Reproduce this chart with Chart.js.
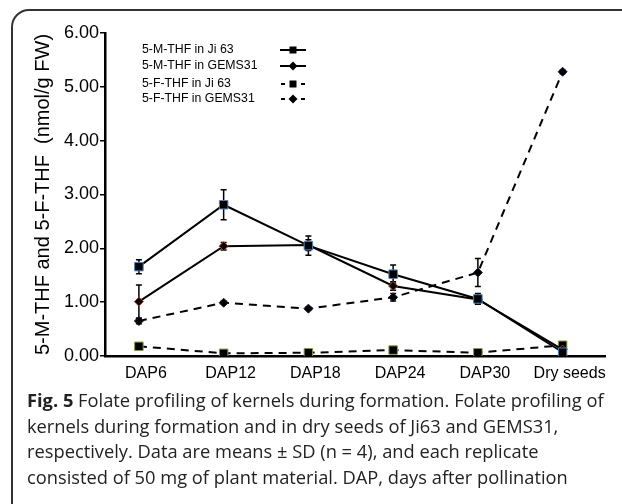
<!DOCTYPE html>
<html>
<head>
<meta charset="utf-8">
<script src="https://cdn.jsdelivr.net/npm/chart.js@4"></script>
<style>
  html, body { margin: 0; padding: 0; background: #fff; overflow: hidden; }
  body { width: 622px; height: 504px; position: relative; }
  #frame {
    position: absolute; left: 11px; top: 9px; width: 660px; height: 520px;
    border: 2px solid #333; border-radius: 18px; box-sizing: border-box;
  }
  #wrap { position: absolute; left: 0; top: 0; width: 622px; height: 390px; }
  #caption {
    position: absolute; left: 27px; top: 387px; white-space: nowrap;
    font-family: "Open Sans", sans-serif; font-size: 18.3px; line-height: 25.7px; color: #222;
  }
</style>
</head>
<body>
<div id="frame"></div>
<div id="wrap"><canvas id="chart" width="622" height="390"></canvas></div>
<div id="caption">
  <b>Fig. 5</b> Folate profiling of kernels during formation. Folate profiling of<br>
  kernels during formation and in dry seeds of Ji63 and GEMS31,<br>
  respectively. Data are means ± SD (n = 4), and each replicate<br>
  consisted of 50 mg of plant material. DAP, days after pollination
</div>
<script>
const categories = ["DAP6", "DAP12", "DAP18", "DAP24", "DAP30", "Dry seeds"];

// means (nmol/g FW)
const mthfJi63 = [1.66, 2.81, 2.05, 1.52, 1.06, 0.07];
const mthfGems31 = [1.01, 2.04, 2.06, 1.30, 1.05, 0.12];
const fthfJi63 = [0.18, 0.05, 0.06, 0.11, 0.06, 0.20];
const fthfGems31 = [0.65, 0.99, 0.88, 1.09, 1.55, 5.28];

// SD
const mthfJi63Sd = [0.13, 0.28, 0.18, 0.17, 0.10, 0];
const mthfGems31Sd = [0.31, 0.07, 0.10, 0.08, 0.08, 0];
const fthfJi63Sd = [0, 0, 0, 0, 0, 0];
const fthfGems31Sd = [0.05, 0.03, 0.03, 0.07, 0.26, 0.03];

const yTicks = [0, 1, 2, 3, 4, 5, 6];

const toPoints = (arr) => arr.map((v, i) => ({ x: i, y: v }));

const makeSet = (label, data, sd, dashed, style, edge) => ({
  label,
  data: toPoints(data),
  sd,
  borderColor: "#000",
  borderWidth: 2,
  borderDash: dashed ? [8, 6] : [],
  pointStyle: style,
  pointRadius: style === "rect" ? 6 : 4.5,
  pointBackgroundColor: "#000",
  pointBorderColor: edge,
  pointBorderWidth: 1,
  tension: 0,
});

// error bars, drawn under the markers
const errorBars = {
  id: "errorBars",
  beforeDatasetsDraw(chart) {
    const { ctx, scales: { x, y } } = chart;
    ctx.save();
    ctx.strokeStyle = "#000";
    ctx.lineWidth = 1.5;
    chart.data.datasets.forEach((ds) => {
      ds.data.forEach((p, i) => {
        const e = ds.sd[i];
        if (!e) return;
        const px = x.getPixelForValue(p.x);
        const top = y.getPixelForValue(p.y + e);
        const bot = y.getPixelForValue(p.y - e);
        ctx.beginPath();
        ctx.moveTo(px, top); ctx.lineTo(px, bot);
        ctx.moveTo(px - 3, top); ctx.lineTo(px + 3, top);
        ctx.moveTo(px - 3, bot); ctx.lineTo(px + 3, bot);
        ctx.stroke();
      });
    });
    ctx.restore();
  },
};

// legend: text first, line sample after it
const sideLegend = {
  id: "sideLegend",
  afterDraw(chart) {
    const { ctx } = chart;
    const rows = [50, 66, 84, 99];
    ctx.save();
    ctx.font = "12.3px 'Liberation Sans', Arial, sans-serif";
    ctx.textBaseline = "middle";
    ctx.fillStyle = "#000";
    chart.data.datasets.forEach((ds, i) => {
      const yy = rows[i];
      ctx.fillText(ds.label, 142, yy);
      ctx.strokeStyle = "#000";
      ctx.lineWidth = 2;
      ctx.beginPath();
      if (ds.borderDash.length) {
        ctx.moveTo(281, yy); ctx.lineTo(285, yy);
        ctx.moveTo(301, yy); ctx.lineTo(305, yy);
      } else {
        ctx.moveTo(280, yy); ctx.lineTo(306, yy);
      }
      ctx.stroke();
      ctx.beginPath();
      if (ds.pointStyle === "rect") {
        ctx.rect(289.5, yy - 3.5, 7, 7);
      } else {
        ctx.moveTo(293, yy - 4.5); ctx.lineTo(297.5, yy);
        ctx.lineTo(293, yy + 4.5); ctx.lineTo(288.5, yy);
        ctx.closePath();
      }
      ctx.fill();
    });
    ctx.restore();
  },
};

new Chart(document.getElementById("chart"), {
  type: "line",
  data: {
    datasets: [
      makeSet("5-M-THF in Ji 63", mthfJi63, mthfJi63Sd, false, "rect", "#4f81bd"),
      makeSet("5-M-THF in GEMS31", mthfGems31, mthfGems31Sd, false, "rectRot", "#b03028"),
      makeSet("5-F-THF in Ji 63", fthfJi63, fthfJi63Sd, true, "rect", "#8a9a3a"),
      makeSet("5-F-THF in GEMS31", fthfGems31, fthfGems31Sd, true, "rectRot", "#1a1a3a"),
    ],
  },
  plugins: [errorBars, sideLegend],
  options: {
    responsive: false,
    animation: false,
    layout: { padding: { left: 27, right: 17, top: 33, bottom: 4 } },
    plugins: { legend: { display: false }, tooltip: { enabled: false } },
    scales: {
      x: {
        type: "linear",
        min: -0.4,
        max: 5.5,
        afterBuildTicks: (axis) => { axis.ticks = categories.map((c, i) => ({ value: i })); },
        afterFit: (axis) => { axis.height = 30; },
        grid: { display: false, drawTicks: false },
        border: { display: true, color: "#000", width: 2.5 },
        ticks: {
          autoSkip: false,
          maxRotation: 0,
          padding: 8,
          labelOffset: 7,
          color: "#000",
          font: { family: "'Liberation Sans', Arial, sans-serif", size: 16 },
          callback: (v) => categories[v],
        },
      },
      y: {
        min: 0,
        max: 6,
        afterBuildTicks: (axis) => { axis.ticks = yTicks.map((v) => ({ value: v })); },
        afterFit: (axis) => { axis.width = 78; },
        grid: { drawOnChartArea: false, drawTicks: true, tickLength: 5, color: "#000", lineWidth: 1.5 },
        border: { display: true, color: "#000", width: 2.5 },
        ticks: {
          padding: 1,
          color: "#000",
          font: { family: "'Liberation Sans', Arial, sans-serif", size: 18 },
          callback: (v) => v.toFixed(2),
        },
        title: {
          display: true,
          text: "5-M-THF and 5-F-THF  (nmol/g FW)",
          color: "#000",
          padding: { top: 4, bottom: 0 },
          font: { family: "'Liberation Sans', Arial, sans-serif", size: 20 },
        },
      },
    },
  },
});
</script>
</body>
</html>
